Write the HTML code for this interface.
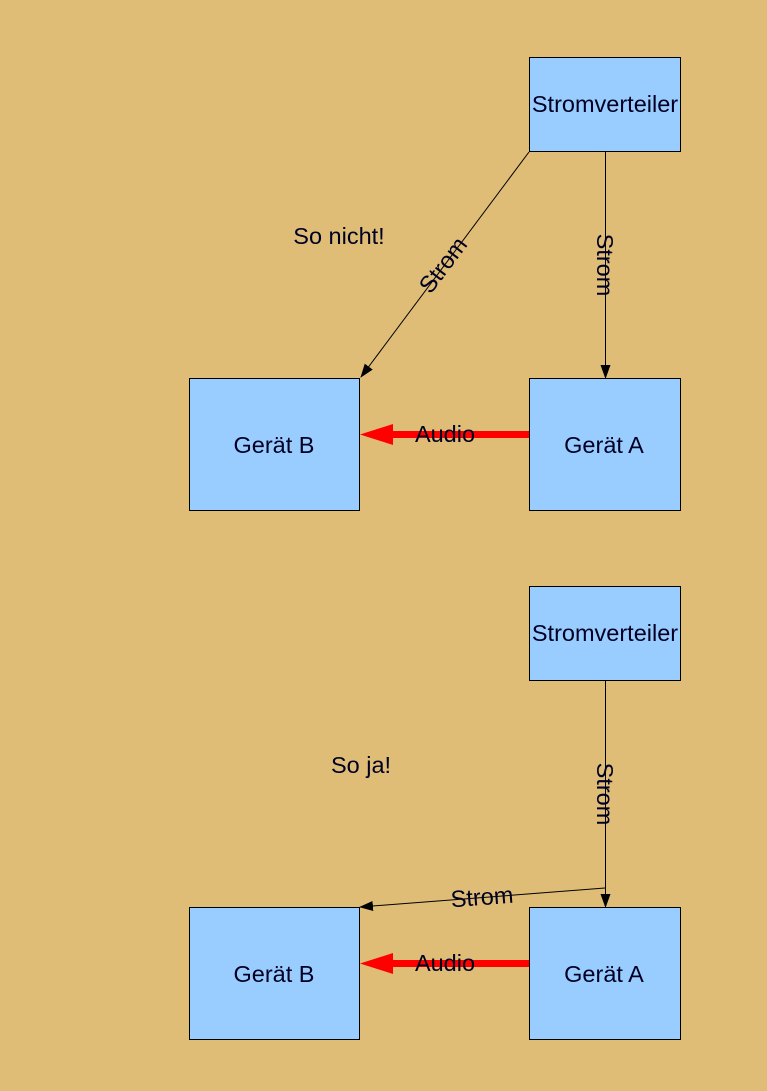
<!DOCTYPE html>
<html><head><meta charset="utf-8"><style>
html,body{margin:0;padding:0;background:#dfbd77;}
svg{display:block;}
text{font-family:"Liberation Sans",sans-serif;font-size:23.5px;fill:#000022;}
</style></head><body>
<svg width="767" height="1091" viewBox="0 0 767 1091" xmlns="http://www.w3.org/2000/svg">
<rect width="767" height="1091" fill="#dfbd77"/>
<defs>
<marker id="ab" markerWidth="14" markerHeight="10" refX="13" refY="5" orient="auto" markerUnits="userSpaceOnUse">
<path d="M0,0 L14,5 L0,10 Z" fill="#000"/></marker>
</defs>
<g stroke="#000" stroke-width="1" fill="#99ccff">
<rect x="529.5" y="57.5" width="151" height="94"/>
<rect x="189.5" y="378.5" width="170" height="132"/>
<rect x="529.5" y="378.5" width="151" height="132"/>
<rect x="529.5" y="586.5" width="151" height="94"/>
<rect x="189.5" y="907.5" width="170" height="132"/>
<rect x="529.5" y="907.5" width="151" height="132"/>
</g>
<g stroke="#000" stroke-width="1" fill="none">
<line x1="529" y1="152" x2="361" y2="377" marker-end="url(#ab)"/>
<line x1="605.5" y1="152" x2="605.5" y2="378" marker-end="url(#ab)"/>
<line x1="605.5" y1="681" x2="605.5" y2="907" marker-end="url(#ab)"/>
<line x1="605" y1="888" x2="360" y2="907" marker-end="url(#ab)"/>
</g>
<g fill="#ff0000">
<rect x="390" y="431" width="139" height="7"/>
<path d="M360,434.5 L393,424 L393,445 Z"/>
<rect x="390" y="960" width="139" height="7"/>
<path d="M360,963.5 L393,953 L393,974 Z"/>
</g>
<text x="605" y="112" text-anchor="middle">Stromverteiler</text>
<text x="605" y="641" text-anchor="middle">Stromverteiler</text>
<text x="274" y="453" text-anchor="middle">Gerät B</text>
<text x="604" y="453" text-anchor="middle">Gerät A</text>
<text x="274" y="982" text-anchor="middle">Gerät B</text>
<text x="604" y="982" text-anchor="middle">Gerät A</text>
<text x="445" y="442" text-anchor="middle">Audio</text>
<text x="445" y="971" text-anchor="middle">Audio</text>
<text x="339" y="244" text-anchor="middle">So nicht!</text>
<text x="361" y="773" text-anchor="middle">So ja!</text>
<text transform="translate(605,265) rotate(90)" text-anchor="middle" y="8">Strom</text>
<text transform="translate(605,794) rotate(90)" text-anchor="middle" y="8">Strom</text>
<text transform="translate(443,265) rotate(-53)" text-anchor="middle" y="8">Strom</text>
<text transform="translate(482,897) rotate(-4.4)" text-anchor="middle" y="8">Strom</text>
</svg>
</body></html>
